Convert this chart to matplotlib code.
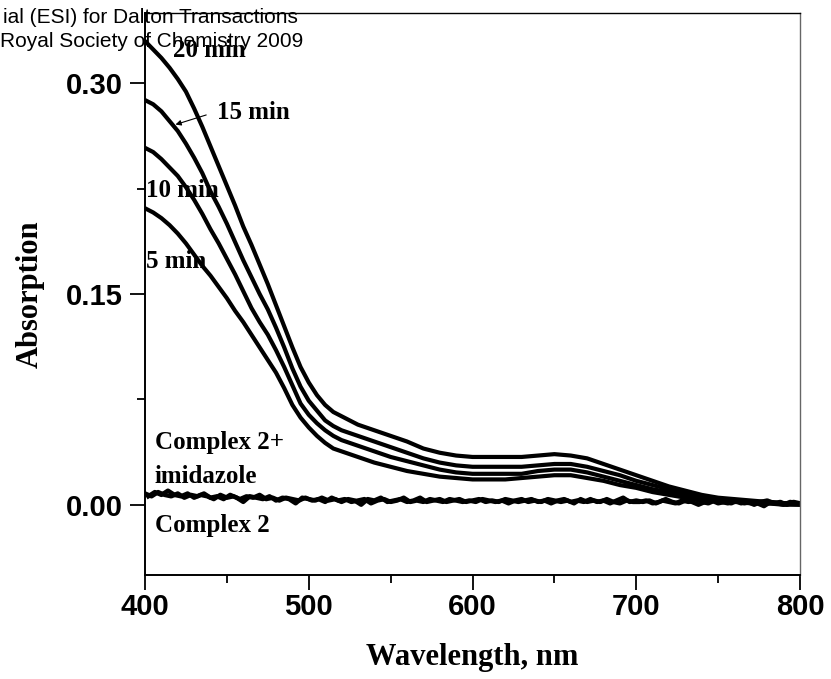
#!/usr/bin/env python3
"""UV-vis absorption vs time for complex 2 with imidazole."""

import matplotlib
matplotlib.use("Agg")
import matplotlib.pyplot as plt
from matplotlib.ticker import MultipleLocator

# smooth spectra: read every 5 nm on the steep part, every 10 nm after
wl = list(range(400, 521, 5)) + list(range(530, 801, 10))

abs_20min = [0.330, 0.324, 0.318, 0.311, 0.303, 0.294, 0.282, 0.269, 0.255, 0.241,
             0.227, 0.213, 0.198, 0.185, 0.171, 0.157, 0.142, 0.127, 0.112, 0.098,
             0.087, 0.078, 0.071, 0.066, 0.063,
             0.057, 0.053, 0.049, 0.045, 0.040, 0.037, 0.035, 0.034, 0.034, 0.034,
             0.034, 0.035, 0.036, 0.035, 0.033, 0.029, 0.025, 0.021, 0.017, 0.013,
             0.010, 0.007, 0.005, 0.004, 0.003, 0.002, 0.001, 0.001]
abs_15min = [0.288, 0.285, 0.280, 0.273, 0.266, 0.257, 0.247, 0.236, 0.223, 0.212,
             0.200, 0.187, 0.174, 0.162, 0.150, 0.139, 0.126, 0.112, 0.097, 0.084,
             0.074, 0.067, 0.060, 0.056, 0.053,
             0.049, 0.045, 0.041, 0.037, 0.033, 0.030, 0.028, 0.027, 0.027, 0.027,
             0.027, 0.028, 0.029, 0.029, 0.027, 0.024, 0.021, 0.017, 0.014, 0.011,
             0.008, 0.006, 0.004, 0.003, 0.002, 0.002, 0.001, 0.001]
abs_10min = [0.254, 0.251, 0.246, 0.240, 0.234, 0.226, 0.217, 0.207, 0.196, 0.186,
             0.175, 0.164, 0.152, 0.140, 0.130, 0.121, 0.110, 0.098, 0.085, 0.072,
             0.064, 0.058, 0.053, 0.049, 0.046,
             0.042, 0.038, 0.034, 0.031, 0.028, 0.025, 0.023, 0.022, 0.022, 0.022,
             0.022, 0.024, 0.025, 0.025, 0.023, 0.020, 0.017, 0.014, 0.011, 0.009,
             0.007, 0.005, 0.004, 0.003, 0.002, 0.001, 0.001, 0.000]
abs_5min = [0.211, 0.208, 0.204, 0.199, 0.193, 0.186, 0.178, 0.170, 0.163, 0.155,
            0.147, 0.138, 0.130, 0.121, 0.112, 0.103, 0.094, 0.083, 0.071, 0.062,
            0.055, 0.049, 0.044, 0.040, 0.038,
            0.034, 0.030, 0.027, 0.024, 0.022, 0.020, 0.019, 0.018, 0.018, 0.018,
            0.019, 0.020, 0.021, 0.021, 0.019, 0.017, 0.014, 0.012, 0.009, 0.007,
            0.005, 0.004, 0.003, 0.002, 0.001, 0.001, 0.000, 0.000]

# noisy baselines
wl_imid = list(range(400, 801, 4))
abs_imid = [0.008, 0.006, 0.009, 0.007, 0.006, 0.008, 0.005, 0.007, 0.006, 0.008,
            0.005, 0.006, 0.004, 0.007, 0.005, 0.002, 0.006, 0.005, 0.004, 0.006,
            0.003, 0.005, 0.004, 0.001, 0.005,
            0.004, 0.003, 0.005, 0.003, 0.004, 0.002, 0.004, 0.003, 0.000, 0.004,
            0.003, 0.005, 0.002, 0.003, 0.004, 0.002, 0.003, 0.005, 0.002, 0.003,
            0.004, 0.002, 0.003, 0.004, 0.002,
            0.003, 0.004, 0.002, 0.003, 0.002, 0.004, 0.003, 0.002, 0.003, 0.004,
            0.002, 0.003, 0.001, 0.003, 0.004, 0.002, 0.003, 0.002, 0.004, 0.002,
            0.003, 0.001, 0.003, 0.005, 0.002,
            0.003, 0.002, 0.003, 0.001, 0.003, 0.002, 0.001, 0.003, 0.002, 0.004,
            0.002, 0.001, 0.003, 0.002, 0.001, 0.003, 0.001, 0.002, 0.000, 0.002,
            0.003, 0.001, 0.002, 0.000, 0.002, 0.001]

wl_c2 = list(range(402, 800, 4))
abs_c2 = [0.006, 0.009, 0.007, 0.010, 0.007, 0.006, 0.008, 0.005, 0.007, 0.006,
          0.004, 0.007, 0.005, 0.006, 0.004, 0.006, 0.005, 0.007, 0.004, 0.005,
          0.003, 0.005, 0.004, 0.003, 0.005,
          0.003, 0.004, 0.002, 0.005, 0.003, 0.004, 0.002, 0.003, 0.004, 0.001,
          0.003, 0.004, 0.002, 0.003, 0.005, 0.002, 0.003, 0.002, 0.004, 0.003,
          0.002, 0.004, 0.003, 0.002, 0.003,
          0.002, 0.004, 0.003, 0.002, 0.003, 0.001, 0.003, 0.004, 0.002, 0.003,
          0.002, 0.004, 0.003, 0.002, 0.003, 0.001, 0.004, 0.002, 0.003, 0.002,
          0.004, 0.002, 0.001, 0.003, 0.002,
          0.002, 0.003, 0.001, 0.002, 0.004, 0.002, 0.001, 0.003, 0.002, 0.000,
          0.002, 0.003, 0.001, 0.002, 0.001, 0.003, 0.001, 0.002, 0.001, -0.001,
          0.002, 0.001, 0.000, 0.002, 0.001]

SERIF = "Liberation Serif"
SANS = "Liberation Sans"


def main() -> None:
    fig = plt.figure(figsize=(8.31, 6.79), dpi=100)
    ax = fig.add_axes([0.1745, 0.1532, 0.7882, 0.8277])

    for series in (abs_20min, abs_15min, abs_10min, abs_5min):
        ax.plot(wl, series, color="black", linewidth=3.0,
                solid_joinstyle="round", solid_capstyle="round")
    ax.plot(wl_imid, abs_imid, color="black", linewidth=3.2)
    ax.plot(wl_c2, abs_c2, color="black", linewidth=3.2)

    ax.set_xlim(400, 800)
    ax.set_ylim(-0.05, 0.35)
    ax.xaxis.set_major_locator(MultipleLocator(100))
    ax.xaxis.set_minor_locator(MultipleLocator(50))
    ax.set_yticks([0.0, 0.15, 0.30])
    ax.set_yticklabels(["0.00", "0.15", "0.30"])
    ax.set_yticks([0.075, 0.225], minor=True)

    ax.tick_params(which="major", direction="out", length=11, width=1.3, pad=5)
    ax.tick_params(axis="x", which="major", pad=2)
    ax.tick_params(which="minor", direction="out", length=6, width=1.3)
    for lab in ax.get_xticklabels() + ax.get_yticklabels():
        lab.set_fontfamily(SANS)
        lab.set_fontweight("bold")
        lab.set_fontsize(21)

    for side in ("left", "bottom"):
        ax.spines[side].set_linewidth(1.4)
    ax.spines["top"].set_linewidth(1.0)
    ax.spines["right"].set_linewidth(1.0)
    ax.spines["right"].set_color("#666666")

    ax.set_xlabel("Wavelength, nm", fontfamily=SERIF, fontweight="bold",
                  fontsize=22, labelpad=16)
    ax.set_ylabel("Absorption", fontfamily=SERIF, fontweight="bold",
                  fontsize=22, labelpad=15)

    lab_kw = dict(fontfamily=SERIF, fontweight="bold", fontsize=18,
                  va="center", ha="left")
    ax.text(417, 0.323, "20 min", **lab_kw)
    ax.text(444, 0.279, "15 min", **lab_kw)
    ax.text(400.5, 0.224, "10 min", **lab_kw)
    ax.text(400.5, 0.173, "5 min", **lab_kw)
    ax.text(406, 0.044, "Complex 2+", **lab_kw)
    ax.text(406, 0.020, "imidazole", **lab_kw)
    ax.text(406, -0.0145, "Complex 2", **lab_kw)
    ax.annotate("", xy=(417, 0.270), xytext=(439, 0.278),
                arrowprops=dict(arrowstyle="-|>", color="black", lw=0.8,
                                mutation_scale=8))

    # clipped page header from the source document
    fig.text(298 / 831, 1 - 23 / 679, "ial (ESI) for Dalton Transactions",
             fontfamily=SANS, fontsize=15, ha="right", va="baseline")
    fig.text(303 / 831, 1 - 47 / 679, "Royal Society of Chemistry 2009",
             fontfamily=SANS, fontsize=15, ha="right", va="baseline")

    fig.savefig("out.png", dpi=100)
    plt.close(fig)


if __name__ == "__main__":
    main()
